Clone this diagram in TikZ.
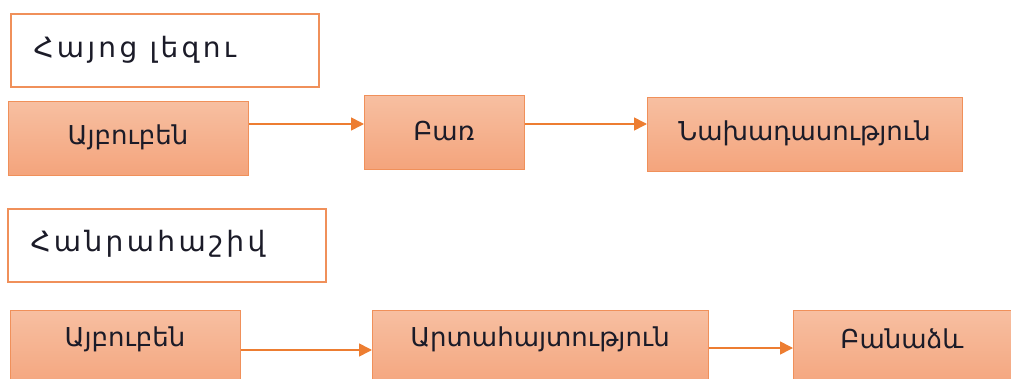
\documentclass[tikz,border=0pt]{standalone}
\usepackage{fontspec}
\setmainfont{DejaVu Sans}
\newfontfamily\armspaced[LetterSpace=12]{DejaVu Sans}
\usetikzlibrary{arrows.meta}
\definecolor{orborder}{HTML}{F0905A}
\definecolor{orarrow}{HTML}{ED7D31}
\definecolor{ortop}{HTML}{F7BFA1}
\definecolor{orbot}{HTML}{F4A47C}
\definecolor{txt}{HTML}{1B1B28}
\tikzset{
  px/.style={x=1pt,y=-1pt},
  titlebox/.style={draw=orborder,line width=1.8pt,fill=white,anchor=north west,inner sep=0pt,text=txt},
  stepbox/.style={draw=orborder,line width=1pt,top color=ortop,bottom color=orbot,anchor=north west,inner sep=0pt,text=txt},
  steptext/.style={text=txt,font=\fontsize{26}{30}\selectfont},
  titletext/.style={anchor=west,text=txt,font=\armspaced\fontsize{28}{32}\selectfont},
  conn/.style={draw=orarrow,line width=1.6pt,-{Triangle[length=13pt,width=13pt]}}
}
\begin{document}
\begin{tikzpicture}[px]
\useasboundingbox (0,0) rectangle (1011,379);
\clip (0,0) rectangle (1011,379);
% row 1
\node[titlebox,minimum width=308pt,minimum height=73pt] (t1) at (10,13) {};
\node[titletext] (t1t) at (30,50) {Հայոց լեզու};
\node[stepbox,minimum width=240pt,minimum height=74pt] (a1) at (8,101) {};
\node[steptext] (a1t) at (128,137) {Այբուբեն};
\node[stepbox,minimum width=160pt,minimum height=74pt] (b1) at (364,95) {};
\node[steptext] (b1t) at (444,131) {Բառ};
\node[stepbox,minimum width=315pt,minimum height=74pt] (c1) at (647,97) {};
\node[steptext] (c1t) at (804.5,133) {Նախադասություն};
\draw[conn] (a1.east |- 0,124) -- (b1.west |- 0,124);
\draw[conn] (b1.east |- 0,124) -- (c1.west |- 0,124);
% row 2
\node[titlebox,minimum width=318pt,minimum height=73pt] (t2) at (7,208) {};
\node[titletext] (t2t) at (27,244) {Հանրահաշիվ};
\node[stepbox,minimum width=230pt,minimum height=80pt] (a2) at (10,310) {};
\node[steptext] (a2t) at (125,339) {Այբուբեն};
\node[stepbox,minimum width=336pt,minimum height=80pt] (b2) at (372,310) {};
\node[steptext] (b2t) at (540,339) {Արտահայտություն};
\node[stepbox,minimum width=230pt,minimum height=80pt] (c2) at (793,310) {};
\node[steptext] (c2t) at (902,339) {Բանաձև};
\draw[conn] (a2.east |- 0,350) -- (b2.west |- 0,350);
\draw[conn] (b2.east |- 0,348) -- (c2.west |- 0,348);
\end{tikzpicture}
\end{document}
